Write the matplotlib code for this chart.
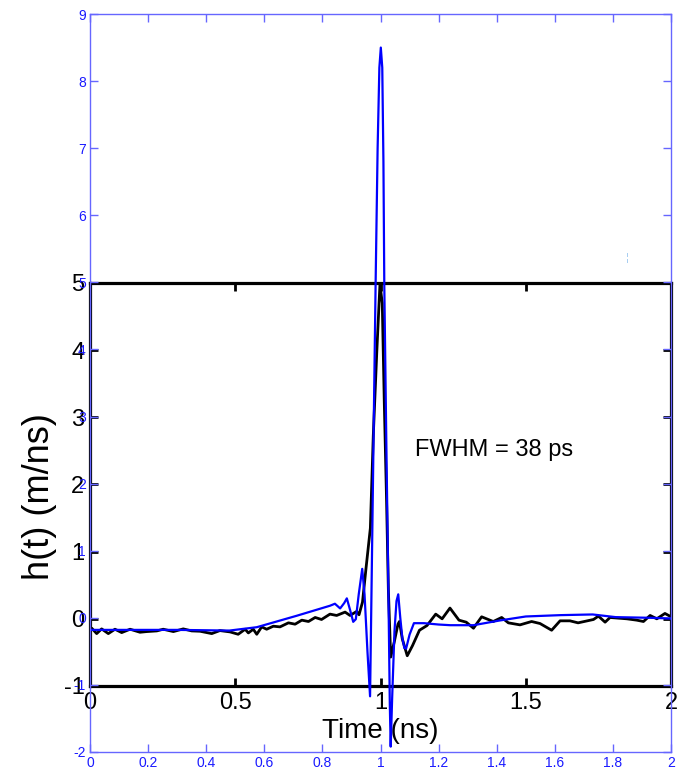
import matplotlib
matplotlib.use('Agg')
import matplotlib.pyplot as plt

plt.rcParams['font.family'] = ['Liberation Sans', 'DejaVu Sans']
plt.rcParams['axes.unicode_minus'] = False

# measured impulse response (black)
t_meas = [0.000, 0.006, 0.023, 0.040, 0.063, 0.086, 0.109, 0.138, 0.172, 0.195,
          0.230, 0.252, 0.287, 0.321, 0.350, 0.379, 0.419, 0.447, 0.482, 0.510,
          0.534, 0.545, 0.562, 0.574, 0.591, 0.608, 0.631, 0.654, 0.683, 0.706,
          0.729, 0.752, 0.775, 0.797, 0.826, 0.849, 0.878, 0.895, 0.918, 0.926,
          0.938, 0.950, 0.965, 0.975, 0.987, 0.998, 1.006, 1.013, 1.021, 1.027,
          1.035, 1.047, 1.060, 1.065, 1.075, 1.092, 1.110, 1.134, 1.160, 1.190,
          1.212, 1.239, 1.270, 1.295, 1.320, 1.348, 1.388, 1.417, 1.440, 1.480,
          1.520, 1.549, 1.589, 1.618, 1.652, 1.680, 1.733, 1.750, 1.773, 1.790,
          1.848, 1.882, 1.905, 1.928, 1.951, 1.979, 2.000]
h_meas = [-0.16, -0.14, -0.22, -0.15, -0.22, -0.155, -0.205, -0.155, -0.20, -0.19,
          -0.18, -0.155, -0.19, -0.15, -0.18, -0.185, -0.22, -0.175, -0.195, -0.23,
          -0.155, -0.21, -0.155, -0.23, -0.12, -0.155, -0.11, -0.12, -0.06, -0.08,
          -0.02, -0.04, 0.02, -0.01, 0.07, 0.05, 0.10, 0.05, 0.11, 0.06,
          0.25, 0.75, 1.35, 2.72, 3.96, 4.98, 4.70, 3.21, 1.72, 0.43,
          -0.57, -0.35, -0.08, -0.04, -0.30, -0.55, -0.40, -0.17, -0.10, 0.07,
          0.00, 0.16, -0.02, -0.05, -0.14, 0.03, -0.04, 0.02, -0.06, -0.09,
          -0.04, -0.07, -0.17, -0.03, -0.03, -0.06, -0.01, 0.04, -0.05, 0.02,
          0.00, -0.02, -0.04, 0.05, 0.00, 0.08, 0.03]

# simulated impulse response (blue)
t_sim = [0.000, 0.300, 0.480, 0.574, 0.711, 0.826, 0.843, 0.861, 0.875, 0.884,
         0.895, 0.906, 0.915, 0.925, 0.937, 0.945, 0.955, 0.964, 0.970, 0.977,
         0.983, 0.990, 0.996, 1.001, 1.006, 1.010, 1.013, 1.020, 1.027, 1.032,
         1.035, 1.040, 1.048, 1.055, 1.061, 1.068, 1.075, 1.082, 1.088, 1.100,
         1.115, 1.150, 1.200, 1.240, 1.320, 1.410, 1.500, 1.620, 1.730, 1.810,
         1.930, 2.000]
h_sim = [-0.18, -0.18, -0.19, -0.14, 0.03, 0.18, 0.21, 0.14, 0.22, 0.29,
         0.12, -0.06, -0.02, 0.35, 0.73, 0.35, -0.50, -1.17, 0.73, 3.00,
         4.95, 7.00, 8.20, 8.50, 8.20, 6.80, 4.95, 2.60, 0.43, -1.30,
         -1.92, -1.20, -0.20, 0.25, 0.35, 0.00, -0.30, -0.45, -0.46, -0.25,
         -0.08, -0.08, -0.10, -0.11, -0.11, -0.04, 0.02, 0.04, 0.05, 0.01,
         0.00, -0.01]

black_xticks = [0, 0.5, 1, 1.5, 2]
black_yticks = [-1, 0, 1, 2, 3, 4, 5]
blue_xticks = [0, 0.2, 0.4, 0.6, 0.8, 1, 1.2, 1.4, 1.6, 1.8, 2]
blue_yticks = [-2, -1, 0, 1, 2, 3, 4, 5, 6, 7, 8, 9]

fig = plt.figure(figsize=(6.86, 7.83), dpi=100)

# black (measured) axes, underneath
ax1 = fig.add_axes([0.1312, 0.1239, 0.847, 0.5147])
ax1.plot(t_meas, h_meas, color='black', lw=2.0)
ax1.set_xlim(0, 2)
ax1.set_ylim(-1, 5)
ax1.set_xticks(black_xticks)
ax1.set_xticklabels(['0', '0.5', '1', '1.5', '2'])
ax1.set_yticks(black_yticks)
ax1.tick_params(direction='in', length=6, width=2, labelsize=17, pad=4,
                top=True, right=True, color='black')
for s in ax1.spines.values():
    s.set_linewidth(2.3)
ax1.set_xlabel('Time (ns)', fontsize=20)
ax1.xaxis.set_label_coords(0.5, -0.08)
ax1.set_ylabel('h(t) (m/ns)', fontsize=26)
ax1.yaxis.set_label_coords(-0.056, 0.47)
ax1.text(1.12, 2.52, 'FWHM = 38 ps', fontsize=17, va='center')

# blue (simulated) axes, on top
ax2 = fig.add_axes([0.1312, 0.0396, 0.847, 0.9425])
ax2.patch.set_visible(False)
ax2.plot(t_sim, h_sim, color='#0000ff', lw=1.6)
ax2.set_xlim(0, 2)
ax2.set_ylim(-2, 9)
ax2.set_xticks(blue_xticks)
ax2.set_xticklabels(['0', '0.2', '0.4', '0.6', '0.8', '1', '1.2', '1.4', '1.6', '1.8', '2'])
ax2.set_yticks(blue_yticks)
ax2.tick_params(direction='in', length=6, width=1, labelsize=10, pad=3,
                top=True, right=True, color='#6666ff', labelcolor='#1a1aff')
for s in ax2.spines.values():
    s.set_color('#6666ff')
    s.set_linewidth(1.0)

fig.text(627 / 686, 1 - 258 / 783, '¦', color='#9cc8f0', fontsize=8,
         ha='center', va='center')

plt.savefig('out.png', dpi=100, facecolor='white')
